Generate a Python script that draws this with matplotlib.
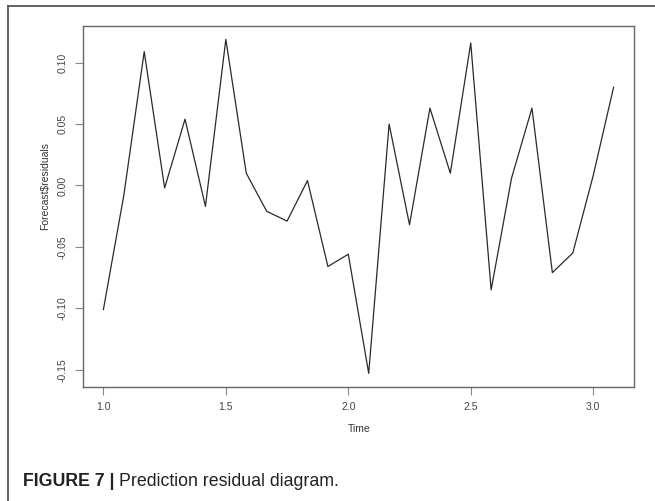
import numpy as np
import matplotlib
matplotlib.use("Agg")
import matplotlib.pyplot as plt
from matplotlib.lines import Line2D

plt.rcParams['font.family'] = ['Liberation Sans', 'DejaVu Sans']

# monthly residuals, ts(start=1, frequency=12)
t_start = 1.0
t_freq = 12
residuals = [-0.101, -0.008, 0.109, -0.002, 0.054, -0.017, 0.119, 0.010,
             -0.021, -0.029, 0.004, -0.066, -0.056, -0.153, 0.050, -0.032,
             0.063, 0.010, 0.116, -0.085, 0.006, 0.063, -0.071, -0.055,
             0.008, 0.080]
x_ticks = [1.0, 1.5, 2.0, 2.5, 3.0]
x_ticklabels = ["1.0", "1.5", "2.0", "2.5", "3.0"]
y_ticks = [-0.15, -0.10, -0.05, 0.00, 0.05, 0.10]
y_ticklabels = ["-0.15", "-0.10", "-0.05", "0.00", "0.05", "0.10"]

time = t_start + np.arange(len(residuals)) / t_freq

fig = plt.figure(figsize=(6.55, 5.01), dpi=100)
ax = fig.add_axes([83 / 655, 1 - 386.7 / 501, 551 / 655, 360.7 / 501])

ax.plot(time, residuals, color="#2a2a2a", lw=0.9)

# R style: 4% padding around data range
span = time[-1] - time[0]
ax.set_xlim(time[0] - 0.04 * span, time[-1] + 0.04 * span)
ymin, ymax = min(residuals), max(residuals)
ax.set_ylim(ymin - 0.04 * (ymax - ymin), ymax + 0.04 * (ymax - ymin))

ax.set_xticks(x_ticks)
ax.set_xticklabels(x_ticklabels)
ax.set_yticks(y_ticks)
ax.set_yticklabels(y_ticklabels, rotation=90, va="center")
ax.tick_params(direction="out", length=6, width=0.8, color="#888888",
               labelsize=7.5, labelcolor="#444444", pad=5)
for s in ax.spines.values():
    s.set_color("#666666")
    s.set_linewidth(1.0)

fig.text(359 / 655, 1 - 429 / 501, "Time", ha="center", va="center",
         fontsize=7.5, color="#333333")
fig.text(45 / 655, 1 - 186 / 501, "Forecast$residuals", ha="center",
         va="center", rotation=90, fontsize=7.5, color="#333333",
         parse_math=False)

# outer figure frame (top and left)
fig.add_artist(Line2D([8 / 655, 1.0], [1 - 6 / 501, 1 - 6 / 501],
                      transform=fig.transFigure, color="#555555", lw=1.3))
fig.add_artist(Line2D([8 / 655, 8 / 655], [0.0, 1 - 6 / 501],
                      transform=fig.transFigure, color="#555555", lw=1.3))

cap_font = ["Liberation Sans Narrow", "Liberation Sans", "DejaVu Sans"]
t1 = fig.text(23 / 655, 1 - 481 / 501, "FIGURE 7 | ", ha="left", va="center",
              fontsize=12.8, fontweight="bold", color="#222222", family=cap_font)
fig.canvas.draw()
bb = t1.get_window_extent()
fig.text(bb.x1 / fig.bbox.width, 1 - 481 / 501, "Prediction residual diagram.",
         ha="left", va="center", fontsize=12.8, color="#222222", family=cap_font)

fig.savefig("out.png", dpi=100)
